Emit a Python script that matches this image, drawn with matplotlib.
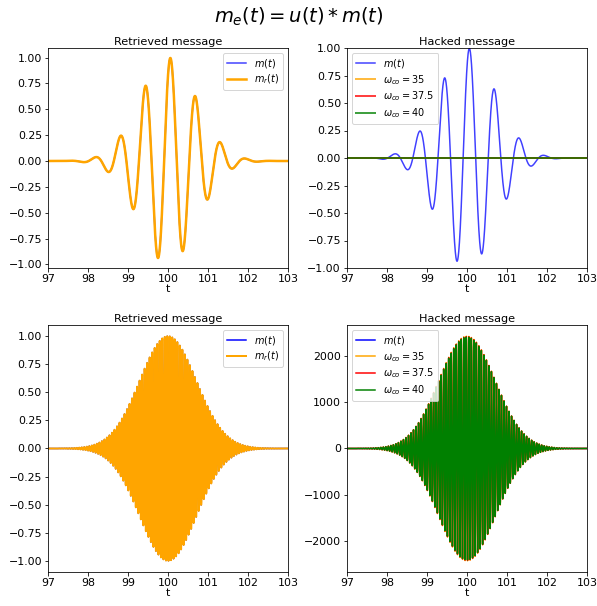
import numpy as np
import matplotlib
matplotlib.use("Agg")
import matplotlib.pyplot as plt

# ---- data (signal parameters) ----
t_start, t_end = 97.0, 103.0
env_center = 100.0          # Gaussian envelope centre
env_width = 1.0             # exp(-((t-c)/w)^2)
carrier_low = 10.0          # rad/s, top row
carrier_high = 100.0        # rad/s, bottom row
cutoffs = [35, 37.5, 40]
cutoff_labels = [r"$\omega_{co} = 35$", r"$\omega_{co} = 37.5$", r"$\omega_{co} = 40$"]
cutoff_colors = ["orange", "red", "green"]
hacked_amp_low = [0.0, 0.0, 0.0]            # filtered away in top row
hacked_amp_high = [2420.0, 2410.0, 2400.0]  # peak amplitude in bottom row
hacked_phase_high = [0.25, 0.05, 0.0]       # rad, small lag between cutoffs
xticks = [97, 98, 99, 100, 101, 102, 103]

t = np.linspace(t_start - 0.5, t_end + 0.5, 14001)
env = np.exp(-((t - env_center) / env_width) ** 2)
m_low = env * np.sin(carrier_low * t)
m_high = env * np.sin(carrier_high * t)

DPI = 72
plt.rcParams.update({
    "xtick.labelsize": 11,
    "ytick.labelsize": 11,
    "xtick.major.pad": 2.5,
    "ytick.major.pad": 2.5,
    "xtick.major.size": 3.5,
    "ytick.major.size": 3.5,
    "axes.labelsize": 11,
    "legend.fontsize": 9.8,
    "legend.labelspacing": 0.3,
})

fig = plt.figure(figsize=(597 / DPI, 606 / DPI), dpi=DPI)
fig.suptitle(r"$m_e(t) = u(t) * m(t)$", fontsize=19.5, y=0.99)

L1, R1 = 48 / 597, 288 / 597
L2, R2 = 347 / 597, 587 / 597
T1, B1 = 1 - 48 / 606, 1 - 268 / 606
T2, B2 = 1 - 325 / 606, 1 - 572 / 606

ax1 = fig.add_axes([L1, B1, R1 - L1, T1 - B1])
ax2 = fig.add_axes([L2, B1, R2 - L2, T1 - B1])
ax3 = fig.add_axes([L1, B2, R1 - L1, T2 - B2])
ax4 = fig.add_axes([L2, B2, R2 - L2, T2 - B2])

TITLE_FS = 11.3

# top-left
ax1.plot(t, m_low, color="blue", lw=1.5, alpha=0.75, label=r"$m(t)$")
ax1.plot(t, m_low, color="orange", lw=2.5, label=r"$m_r(t)$")
ax1.set_title("Retrieved message", fontsize=TITLE_FS, pad=3)
ax1.legend(loc="upper right")

# top-right
ax2.plot(t, m_low, color="blue", lw=1.5, alpha=0.75, label=r"$m(t)$")
for a, lab, c in zip(hacked_amp_low, cutoff_labels, cutoff_colors):
    ax2.plot(t, a * m_low, color=c, lw=2, alpha=0.75, label=lab)
ax2.set_ylim(-1, 1)
ax2.set_title("Hacked message", fontsize=TITLE_FS, pad=3)
ax2.legend(loc="upper left")

# bottom-left
ax3.plot(t, m_high, color="blue", lw=1.5, label=r"$m(t)$")
ax3.plot(t, m_high, color="orange", lw=2, label=r"$m_r(t)$")
ax3.set_title("Retrieved message", fontsize=TITLE_FS, pad=3)
ax3.legend(loc="upper right")

# bottom-right
ax4.plot(t, m_high, color="blue", lw=1.5, label=r"$m(t)$")
for a, ph, lab, c in zip(hacked_amp_high, hacked_phase_high, cutoff_labels, cutoff_colors):
    ax4.plot(t, a * env * np.sin(carrier_high * t - ph), color=c, lw=1.5, label=lab)
ax4.set_title("Hacked message", fontsize=TITLE_FS, pad=3)
ax4.legend(loc="upper left")

for ax in (ax1, ax2, ax3, ax4):
    ax.set_xlim(t_start, t_end)
    ax.set_xticks(xticks)
    ax.set_xlabel("t", labelpad=0)

fig.savefig("out.png", dpi=DPI)
